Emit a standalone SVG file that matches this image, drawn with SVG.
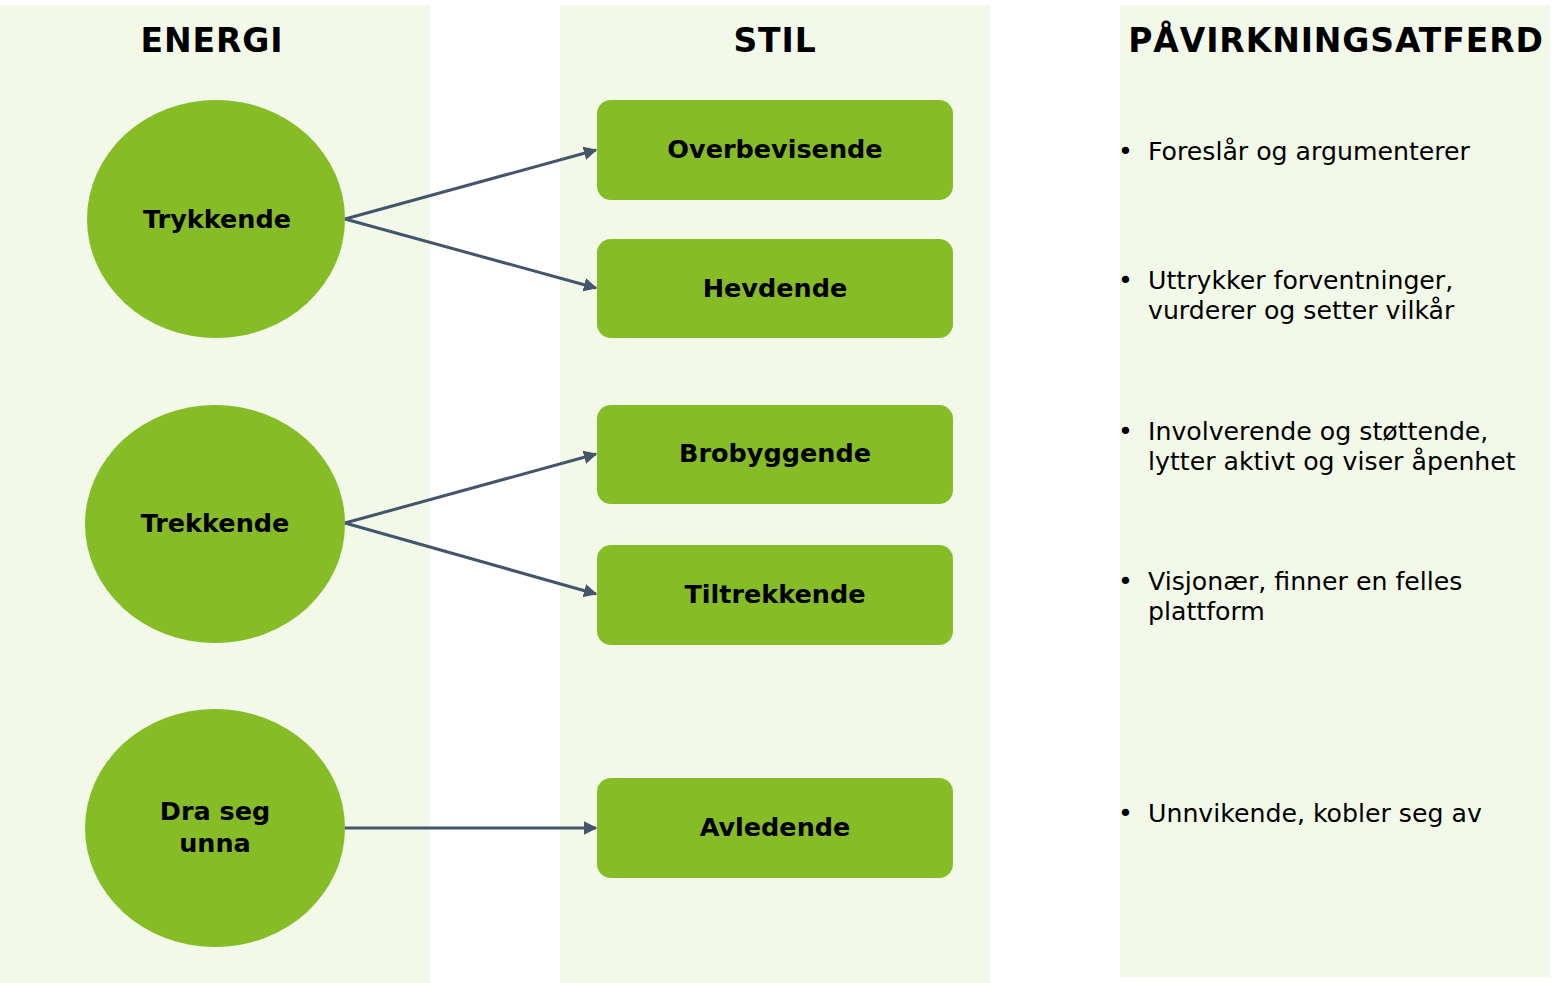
<svg xmlns="http://www.w3.org/2000/svg" width="1562" height="983" viewBox="0 0 1562 983">
<style>
.bg{fill:#F2F9E9}
.node{fill:#86BC25}
.hd{font-family:"DejaVu Sans",Verdana,sans-serif;font-weight:bold;font-size:33px;fill:#000;text-anchor:middle;letter-spacing:0.9px}
.lb{font-family:"DejaVu Sans",Verdana,sans-serif;font-weight:bold;font-size:25.5px;fill:#000;text-anchor:middle}
.tx{font-family:"DejaVu Sans",Verdana,sans-serif;font-size:25.2px;fill:#000}
.conn{stroke:#44546A;stroke-width:3;fill:none;marker-end:url(#ah)}
</style>
<defs>
<marker id="ah" viewBox="0 0 10 10" refX="9" refY="5" markerWidth="4.5" markerHeight="4.5" orient="auto" markerUnits="strokeWidth">
<path d="M0,0 L10,5 L0,10 Z" fill="#44546A"/>
</marker>
</defs>
<rect width="1562" height="983" fill="#fff"/>
<g id="columns">
<rect class="bg" x="0" y="5" width="430" height="978"/>
<rect class="bg" x="560" y="5" width="430" height="978"/>
<rect class="bg" x="1120" y="5" width="430" height="972"/>
</g>
<g id="headers">
<text class="hd" x="212" y="52">ENERGI</text>
<text class="hd" x="775" y="52">STIL</text>
<text class="hd" x="1336" y="52">PÅVIRKNINGSATFERD</text>
</g>
<g id="connectors">
<line class="conn" x1="345" y1="219" x2="596" y2="150"/>
<line class="conn" x1="345" y1="219" x2="596" y2="288"/>
<line class="conn" x1="345" y1="523" x2="596" y2="454"/>
<line class="conn" x1="345" y1="523" x2="596" y2="594"/>
<line class="conn" x1="345" y1="828" x2="596" y2="828"/>
</g>
<g id="trykkende">
<ellipse class="node" cx="216" cy="219" rx="129" ry="119"/>
<text class="lb" x="217" y="228">Trykkende</text>
</g>
<g id="trekkende">
<ellipse class="node" cx="215" cy="524" rx="130" ry="119"/>
<text class="lb" x="215" y="532">Trekkende</text>
</g>
<g id="dra-seg-unna">
<ellipse class="node" cx="215" cy="828" rx="130" ry="119"/>
<text class="lb" x="215" y="820">Dra seg</text>
<text class="lb" x="215" y="852">unna</text>
</g>
<g id="overbevisende">
<rect class="node" x="597" y="100" width="356" height="100" rx="14"/>
<text class="lb" x="775" y="158">Overbevisende</text>
</g>
<g id="hevdende">
<rect class="node" x="597" y="239" width="356" height="99" rx="14"/>
<text class="lb" x="775" y="297">Hevdende</text>
</g>
<g id="brobyggende">
<rect class="node" x="597" y="405" width="356" height="99" rx="14"/>
<text class="lb" x="775" y="462">Brobyggende</text>
</g>
<g id="tiltrekkende">
<rect class="node" x="597" y="545" width="356" height="100" rx="14"/>
<text class="lb" x="775" y="603">Tiltrekkende</text>
</g>
<g id="avledende">
<rect class="node" x="597" y="778" width="356" height="100" rx="14"/>
<text class="lb" x="775" y="836">Avledende</text>
</g>
<g id="behaviours">
<text class="tx" x="1118" y="160">•</text>
<text class="tx" x="1148" y="160">Foreslår og argumenterer</text>
<text class="tx" x="1118" y="289">•</text>
<text class="tx" x="1148" y="289">Uttrykker forventninger,</text>
<text class="tx" x="1148" y="319">vurderer og setter vilkår</text>
<text class="tx" x="1118" y="440">•</text>
<text class="tx" x="1148" y="440">Involverende og støttende,</text>
<text class="tx" x="1148" y="470">lytter aktivt og viser åpenhet</text>
<text class="tx" x="1118" y="590">•</text>
<text class="tx" x="1148" y="590">Visjonær, finner en felles</text>
<text class="tx" x="1148" y="620">plattform</text>
<text class="tx" x="1118" y="822">•</text>
<text class="tx" x="1148" y="822">Unnvikende, kobler seg av</text>
</g>
</svg>
